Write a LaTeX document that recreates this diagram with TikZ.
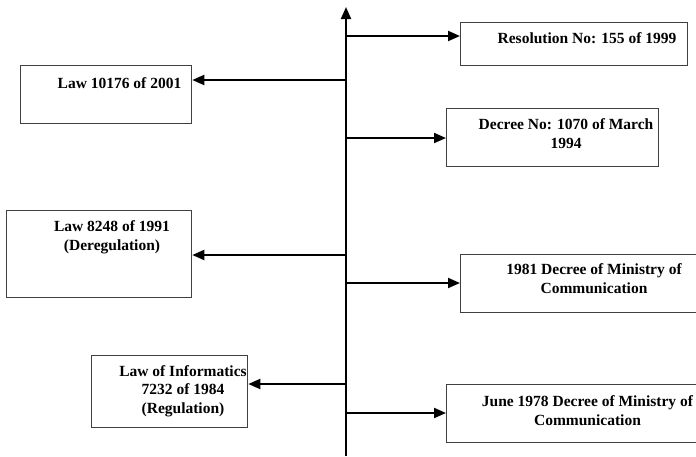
\documentclass[tikz,border=0pt]{standalone}
\usepackage{fontspec}
\setmainfont{Liberation Serif}
\usetikzlibrary{arrows.meta}
\begin{document}
\begin{tikzpicture}[x=1pt,y=-1pt,
  box/.style={draw=black!75, line width=1.3pt, rectangle, inner sep=0pt, anchor=north west},
  lbl/.style={font=\fontsize{15.5}{18.5}\selectfont\bfseries, align=center, anchor=base, inner sep=0pt},
  arr/.style={line width=2pt, -{Triangle[length=12pt,width=10pt]}}]
\useasboundingbox (0,0) rectangle (696,456);
% boxes
\node[box, minimum width=227, minimum height=43] (res) at (460,22) {};
\node[box, minimum width=212, minimum height=58] (dec) at (446,108) {};
\node[box, minimum width=250, minimum height=58] (com) at (460,254) {};
\node[box, minimum width=264, minimum height=58] (jun) at (446,384) {};
\node[box, minimum width=171, minimum height=58] (law01) at (20,65) {};
\node[box, minimum width=185, minimum height=87] (law91) at (6,210) {};
\node[box, minimum width=156, minimum height=72] (law84) at (91,355) {};
% texts (anchor = baseline of the last line)
\node[lbl] (tres) at (587,43) {Resolution No: 155 of 1999};
\node[lbl] (tdec) at (566,148) {Decree No: 1070 of March\\1994};
\node[lbl] (tcom) at (594,293) {1981 Decree of Ministry of\\Communication};
\node[lbl] (tjun) at (587.5,425) {June 1978 Decree of Ministry of\\Communication};
\node[lbl] (tl01) at (119.5,88) {Law 10176 of 2001};
\node[lbl] (tl91) at (112,250) {Law 8248 of 1991\\(Deregulation)};
\node[lbl] (tl84) at (183,413) {Law of Informatics\\7232 of 1984\\(Regulation)};
% axis
\coordinate (axbot) at (346,456);
\coordinate (axtop) at (346,7);
\draw[arr] (axbot) -- (axtop);
% connectors
\coordinate (a1) at (346,36);
\coordinate (a2) at (346,80);
\coordinate (a3) at (346,138);
\coordinate (a4) at (346,255);
\coordinate (a5) at (346,283);
\coordinate (a6) at (346,384);
\coordinate (a7) at (346,413);
\draw[arr] (a1) -- (a1 -| res.west);
\draw[arr] (a2) -- (a2 -| law01.east);
\draw[arr] (a3) -- (a3 -| dec.west);
\draw[arr] (a4) -- (a4 -| law91.east);
\draw[arr] (a5) -- (a5 -| com.west);
\draw[arr] (a6) -- (a6 -| law84.east);
\draw[arr] (a7) -- (a7 -| jun.west);
\end{tikzpicture}
\end{document}
